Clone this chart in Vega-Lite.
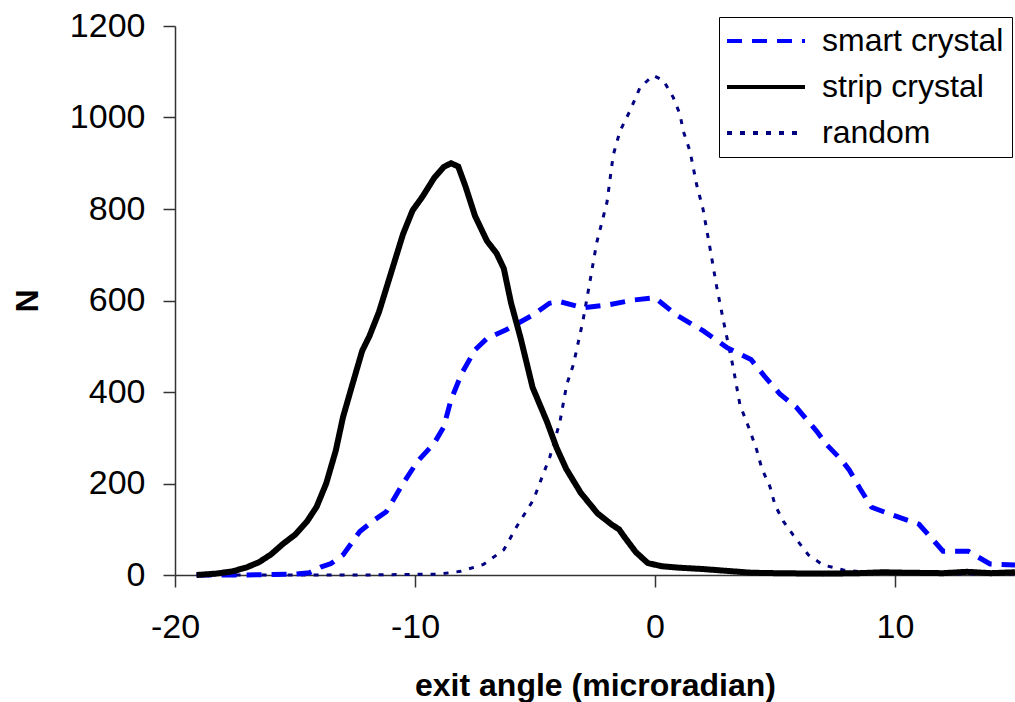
{
  "$schema": "https://vega.github.io/schema/vega-lite/v6.json",
  "width": 840,
  "height": 549,
  "autosize": {"type": "none"},
  "padding": {"left": 175, "top": 26, "right": 0, "bottom": 127},
  "background": "white",
  "config": {
    "view": {"stroke": null},
    "font": "Liberation Sans",
    "legend": {
      "orient": "none",
      "legendX": 544,
      "legendY": -9,
      "title": null,
      "strokeColor": "black",
      "fillColor": "white",
      "padding": 8,
      "rowPadding": 14,
      "labelFontSize": 32,
      "labelColor": "black",
      "labelLimit": 400,
      "labelOffset": 63,
      "symbolType": "M-1.6,0H6.2",
      "symbolSize": 400,
      "symbolStrokeWidth": 4
    }
  },
  "data": {
    "values": [
      {"series": "strip crystal", "angle": -19.1, "n": 0},
      {"series": "strip crystal", "angle": -18.3, "n": 3},
      {"series": "strip crystal", "angle": -17.6, "n": 8},
      {"series": "strip crystal", "angle": -17.0, "n": 17},
      {"series": "strip crystal", "angle": -16.5, "n": 28},
      {"series": "strip crystal", "angle": -16.0, "n": 45},
      {"series": "strip crystal", "angle": -15.5, "n": 68},
      {"series": "strip crystal", "angle": -15.0, "n": 88},
      {"series": "strip crystal", "angle": -14.5, "n": 117},
      {"series": "strip crystal", "angle": -14.1, "n": 149},
      {"series": "strip crystal", "angle": -13.7, "n": 200},
      {"series": "strip crystal", "angle": -13.3, "n": 272},
      {"series": "strip crystal", "angle": -13.0, "n": 345},
      {"series": "strip crystal", "angle": -12.6, "n": 418},
      {"series": "strip crystal", "angle": -12.2, "n": 490},
      {"series": "strip crystal", "angle": -11.9, "n": 522},
      {"series": "strip crystal", "angle": -11.5, "n": 575},
      {"series": "strip crystal", "angle": -11.0, "n": 660},
      {"series": "strip crystal", "angle": -10.5, "n": 745},
      {"series": "strip crystal", "angle": -10.1, "n": 797},
      {"series": "strip crystal", "angle": -9.7, "n": 826},
      {"series": "strip crystal", "angle": -9.2, "n": 868},
      {"series": "strip crystal", "angle": -8.8, "n": 892},
      {"series": "strip crystal", "angle": -8.5, "n": 900},
      {"series": "strip crystal", "angle": -8.2, "n": 893},
      {"series": "strip crystal", "angle": -7.9, "n": 850},
      {"series": "strip crystal", "angle": -7.5, "n": 785},
      {"series": "strip crystal", "angle": -7.0, "n": 730},
      {"series": "strip crystal", "angle": -6.6, "n": 703},
      {"series": "strip crystal", "angle": -6.3, "n": 670},
      {"series": "strip crystal", "angle": -6.0, "n": 595},
      {"series": "strip crystal", "angle": -5.6, "n": 518},
      {"series": "strip crystal", "angle": -5.1, "n": 410},
      {"series": "strip crystal", "angle": -4.5, "n": 335},
      {"series": "strip crystal", "angle": -4.1, "n": 278},
      {"series": "strip crystal", "angle": -3.7, "n": 232},
      {"series": "strip crystal", "angle": -3.1, "n": 180},
      {"series": "strip crystal", "angle": -2.4, "n": 135},
      {"series": "strip crystal", "angle": -1.8, "n": 110},
      {"series": "strip crystal", "angle": -1.5, "n": 100},
      {"series": "strip crystal", "angle": -1.3, "n": 85},
      {"series": "strip crystal", "angle": -0.8, "n": 50},
      {"series": "strip crystal", "angle": -0.3, "n": 26},
      {"series": "strip crystal", "angle": 0.3, "n": 19},
      {"series": "strip crystal", "angle": 1.0, "n": 16},
      {"series": "strip crystal", "angle": 2.0, "n": 13},
      {"series": "strip crystal", "angle": 3.0, "n": 9},
      {"series": "strip crystal", "angle": 4.0, "n": 5},
      {"series": "strip crystal", "angle": 5.0, "n": 4},
      {"series": "strip crystal", "angle": 7.0, "n": 3},
      {"series": "strip crystal", "angle": 8.5, "n": 4},
      {"series": "strip crystal", "angle": 9.5, "n": 6},
      {"series": "strip crystal", "angle": 10.5, "n": 5},
      {"series": "strip crystal", "angle": 12.0, "n": 4},
      {"series": "strip crystal", "angle": 13.0, "n": 7},
      {"series": "strip crystal", "angle": 14.0, "n": 4},
      {"series": "strip crystal", "angle": 15.0, "n": 6},

      {"series": "smart crystal", "angle": -19.1, "n": 0},
      {"series": "smart crystal", "angle": -17.0, "n": 0},
      {"series": "smart crystal", "angle": -15.0, "n": 2},
      {"series": "smart crystal", "angle": -14.4, "n": 5},
      {"series": "smart crystal", "angle": -13.9, "n": 18},
      {"series": "smart crystal", "angle": -13.5, "n": 25},
      {"series": "smart crystal", "angle": -13.0, "n": 44},
      {"series": "smart crystal", "angle": -12.3, "n": 95},
      {"series": "smart crystal", "angle": -11.7, "n": 120},
      {"series": "smart crystal", "angle": -11.2, "n": 138},
      {"series": "smart crystal", "angle": -10.5, "n": 200},
      {"series": "smart crystal", "angle": -9.9, "n": 248},
      {"series": "smart crystal", "angle": -9.2, "n": 288},
      {"series": "smart crystal", "angle": -8.8, "n": 324},
      {"series": "smart crystal", "angle": -8.5, "n": 383},
      {"series": "smart crystal", "angle": -8.05, "n": 441},
      {"series": "smart crystal", "angle": -7.5, "n": 492},
      {"series": "smart crystal", "angle": -7.0, "n": 517},
      {"series": "smart crystal", "angle": -6.2, "n": 536},
      {"series": "smart crystal", "angle": -5.1, "n": 568},
      {"series": "smart crystal", "angle": -4.4, "n": 594},
      {"series": "smart crystal", "angle": -4.0, "n": 598},
      {"series": "smart crystal", "angle": -3.0, "n": 584},
      {"series": "smart crystal", "angle": -2.0, "n": 590},
      {"series": "smart crystal", "angle": -0.9, "n": 601},
      {"series": "smart crystal", "angle": 0.0, "n": 606},
      {"series": "smart crystal", "angle": 0.9, "n": 568},
      {"series": "smart crystal", "angle": 2.0, "n": 534},
      {"series": "smart crystal", "angle": 3.0, "n": 497},
      {"series": "smart crystal", "angle": 4.0, "n": 471},
      {"series": "smart crystal", "angle": 4.65, "n": 429},
      {"series": "smart crystal", "angle": 5.2, "n": 396},
      {"series": "smart crystal", "angle": 5.9, "n": 366},
      {"series": "smart crystal", "angle": 6.74, "n": 314},
      {"series": "smart crystal", "angle": 7.15, "n": 285},
      {"series": "smart crystal", "angle": 7.78, "n": 251},
      {"series": "smart crystal", "angle": 8.1, "n": 229},
      {"series": "smart crystal", "angle": 8.54, "n": 189},
      {"series": "smart crystal", "angle": 9.03, "n": 148},
      {"series": "smart crystal", "angle": 9.9, "n": 131},
      {"series": "smart crystal", "angle": 11.0, "n": 111},
      {"series": "smart crystal", "angle": 11.7, "n": 70},
      {"series": "smart crystal", "angle": 12.0, "n": 52},
      {"series": "smart crystal", "angle": 13.05, "n": 52},
      {"series": "smart crystal", "angle": 13.96, "n": 24},
      {"series": "smart crystal", "angle": 15.0, "n": 22},

      {"series": "random", "angle": -19.1, "n": 0},
      {"series": "random", "angle": -12.0, "n": 0},
      {"series": "random", "angle": -9.0, "n": 2},
      {"series": "random", "angle": -8.1, "n": 8},
      {"series": "random", "angle": -7.15, "n": 23},
      {"series": "random", "angle": -6.3, "n": 55},
      {"series": "random", "angle": -5.76, "n": 106},
      {"series": "random", "angle": -5.07, "n": 164},
      {"series": "random", "angle": -4.375, "n": 259},
      {"series": "random", "angle": -3.96, "n": 335},
      {"series": "random", "angle": -3.68, "n": 416},
      {"series": "random", "angle": -3.4, "n": 460},
      {"series": "random", "angle": -3.0, "n": 556},
      {"series": "random", "angle": -2.7, "n": 645},
      {"series": "random", "angle": -2.43, "n": 726},
      {"series": "random", "angle": -2.0, "n": 815},
      {"series": "random", "angle": -1.74, "n": 918},
      {"series": "random", "angle": -1.46, "n": 970},
      {"series": "random", "angle": -1.04, "n": 1015},
      {"series": "random", "angle": -0.62, "n": 1066},
      {"series": "random", "angle": -0.07, "n": 1092},
      {"series": "random", "angle": 0.35, "n": 1081},
      {"series": "random", "angle": 0.76, "n": 1044},
      {"series": "random", "angle": 1.04, "n": 1007},
      {"series": "random", "angle": 1.18, "n": 970},
      {"series": "random", "angle": 1.46, "n": 926},
      {"series": "random", "angle": 1.74, "n": 852},
      {"series": "random", "angle": 2.0, "n": 800},
      {"series": "random", "angle": 2.3, "n": 712},
      {"series": "random", "angle": 2.57, "n": 630},
      {"series": "random", "angle": 2.85, "n": 556},
      {"series": "random", "angle": 3.26, "n": 453},
      {"series": "random", "angle": 3.54, "n": 372},
      {"series": "random", "angle": 3.96, "n": 315},
      {"series": "random", "angle": 4.24, "n": 273},
      {"series": "random", "angle": 4.45, "n": 233},
      {"series": "random", "angle": 4.79, "n": 193},
      {"series": "random", "angle": 5.0, "n": 153},
      {"series": "random", "angle": 5.35, "n": 117},
      {"series": "random", "angle": 5.76, "n": 87},
      {"series": "random", "angle": 6.39, "n": 44},
      {"series": "random", "angle": 7.0, "n": 22},
      {"series": "random", "angle": 7.85, "n": 11},
      {"series": "random", "angle": 9.0, "n": 5},
      {"series": "random", "angle": 11.0, "n": 3},
      {"series": "random", "angle": 13.0, "n": 2},
      {"series": "random", "angle": 15.0, "n": 2}
    ]
  },
  "encoding": {
    "x": {
      "field": "angle",
      "type": "quantitative",
      "scale": {"domain": [-20, 15], "nice": false, "zero": false},
      "axis": {
        "values": [-20, -10, 0, 10],
        "grid": false,
        "domainColor": "#333333",
        "domainWidth": 1.5,
        "tickColor": "#333333",
        "tickWidth": 1.5,
        "tickSize": 12,
        "labelFontSize": 34,
        "labelColor": "black",
        "labelPadding": 23,
        "labelFlush": false,
        "labelOverlap": false,
        "labelExpr": "datum.value < 0 ? '-' + abs(datum.value) : '' + datum.value",
        "title": "exit angle (microradian)",
        "titleFontSize": 32,
        "titleFontWeight": "bold",
        "titleColor": "black",
        "titleBaseline": "alphabetic",
        "titleY": 120
      }
    },
    "y": {
      "field": "n",
      "type": "quantitative",
      "scale": {"domain": [0, 1200], "nice": false},
      "axis": {
        "values": [0, 200, 400, 600, 800, 1000, 1200],
        "format": "d",
        "grid": false,
        "domainColor": "#333333",
        "domainWidth": 1.5,
        "tickColor": "#333333",
        "tickWidth": 1.5,
        "tickSize": 12,
        "labelFontSize": 34,
        "labelColor": "black",
        "labelPadding": 18,
        "labelFlush": false,
        "labelOverlap": false,
        "title": "N",
        "titleFontSize": 32,
        "titleFontWeight": "bold",
        "titleColor": "black",
        "titleAngle": -90,
        "titleBaseline": "middle",
        "titleAlign": "center",
        "titleX": -148,
        "titleY": 274.5
      }
    },
    "color": {
      "field": "series",
      "type": "nominal",
      "scale": {"domain": ["smart crystal", "strip crystal", "random"], "range": ["#0000ff", "#000000", "#000080"]},
      "legend": {"title": null}
    },
    "strokeDash": {
      "field": "series",
      "type": "nominal",
      "scale": {"domain": ["smart crystal", "strip crystal", "random"], "range": [[15, 10], [1, 0], [5, 8]]},
      "legend": {"title": null}
    }
  },
  "layer": [
    {"transform": [{"filter": "datum.series === 'random'"}], "mark": {"type": "line", "strokeWidth": 3}},
    {"transform": [{"filter": "datum.series === 'smart crystal'"}], "mark": {"type": "line", "strokeWidth": 5}},
    {"transform": [{"filter": "datum.series === 'strip crystal'"}], "mark": {"type": "line", "strokeWidth": 6}}
  ]
}
